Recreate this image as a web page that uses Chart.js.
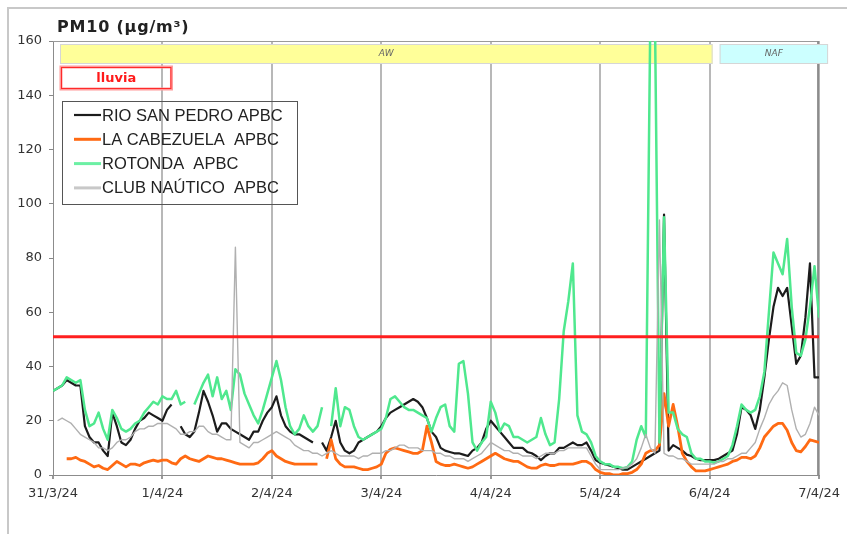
<!DOCTYPE html>
<html>
<head>
<meta charset="utf-8">
<script src="https://cdn.jsdelivr.net/npm/chart.js@4.4.1/dist/chart.umd.min.js"></script>
<style>
  html, body { margin: 0; padding: 0; background: #fff; }
  #wrap { width: 847px; height: 534px; }
</style>
</head>
<body>
<div id="wrap"><canvas id="pm10Chart" width="847" height="534"></canvas></div>
<script>
// tick labels, one per day (x axis counts hours from 31/3/24 00:00)
const dayLabels = ["31/3/24", "1/4/24", "2/4/24", "3/4/24", "4/4/24", "5/4/24", "6/4/24", "7/4/24"];
const hours = Array.from({ length: 169 }, (_, i) => i);

// hourly PM10 (µg/m³)
const rioSanPedro = [
  31, 32, 33, 35, 34, 33, 33, 18, 14, 12,
  12, 9, 7, 23, 18, 12, 11, 13, 17, 20,
  21, 23, 22, 21, 20, 24, 26, null, 18, 15,
  14, 16, 23, 31, 27, 22, 16, 19, 19, 17,
  16, 15, 14, 13, 16, 16, 20, 23, 25, 29,
  22, 18, 16, 15, 15, 14, 13, 12, null, 12,
  9, 14, 20, 12, 9, 8, 9, 12, 13, 14,
  15, 16, 18, 21, 23, 24, 25, 26, 27, 28,
  27, 25, 21, 16, 14, 10, 9, 8.5, 8, 8,
  7.5, 7, 9, 10, 12, 17, 20, 18, 16, 14,
  12, 10, 10, 10, 8.5, 8, 7, 5.5, 7, 8,
  8, 10, 10, 11, 12, 11, 11, 12, 9, 5.5,
  4.5, 4, 3.5, 3, 2.5, 2, 2, 3, 4, 5,
  6, 7, 8, 9, 96, 9, 11, 10, 9, 7.5,
  7, 6, 5.5, 5.5, 5.5, 5.5, 6, 7, 8, 9,
  15, 25, 24, 22, 17, 24, 36, 50, 62, 69,
  66, 69, 55, 41, 44, 58, 78, 36, 36
];
const laCabezuela = [
  null, null, null, 6, 6, 6.5, 5.5, 5, 4, 3,
  3.5, 2.5, 2, 3.5, 5, 4, 3, 4, 4, 3.5,
  4.5, 5, 5.5, 5, 5.5, 5.5, 4.5, 4, 6, 7,
  6, 5.5, 5, 6, 7, 6.5, 6, 6, 5.5, 5,
  4.5, 4, 4, 4, 4, 4.5, 6, 8, 9, 7,
  6, 5, 4.5, 4, 4, 4, 4, 4, 4, null,
  6, 13, 6, 4, 3, 3, 3, 2.5, 2, 2,
  2.5, 3, 4, 8, 9.5, 10, 9.5, 9, 8.5, 8,
  8, 9, 18, 12, 5, 4, 3.5, 3.5, 4, 3.5,
  3, 2.5, 3, 4, 5, 6, 7, 8, 7, 6,
  5.5, 5, 5, 4, 3, 2.5, 2.5, 3.5, 4, 3.5,
  3.5, 4, 4, 4, 4, 4.5, 5, 5, 4, 2,
  1, 0.5, 0.5, 0, 0, 0.5, 0.5, 1, 2, 4,
  8, 9, 9, 11, 30, 18, 26, 18, 8, 5,
  3, 1.5, 1.5, 1.5, 2, 2.5, 3, 3.5, 4, 5,
  5.5, 6.5, 6.5, 6, 7, 10, 14, 16, 18, 19,
  19, 16.5, 12, 9, 8.5, 10.5, 13, 12.5, 12
];
const rotonda = [
  31, 32, 33, 36, 35, 34, 35, 24, 18, 19,
  23, 17, 13, 24, 21, 17, 16, 17, 19, 20,
  23, 25, 27, 26, 29, 28, 28, 31, 26, 27,
  null, 26, 30, 34, 37, 29, 36, 28, 31, 24,
  39, 37, 30, 26, 22, 19, 24, 30, 36, 42,
  35, 25, 18, 15, 17, 22, 18, 16, 18, 25,
  null, 18, 32, 18, 25, 24, 18, 14, 13, 14,
  15, 16, 17, 21, 28, 29, 27, 25, 24, 24,
  23, 22, 21, 16, 21, 25, 26, 18, 16, 41,
  42, 30, 12, 9, 12, 14, 27, 23, 16, 19,
  18, 14, 14, 13, 12, 13, 14, 21, 15, 11,
  12, 28, 53, 64, 78, 22, 16, 15, 12, 7,
  5, 4, 4, 3, 3, 2.5, 3, 5, 13, 18,
  14, 170, 170, 12, 95, 23, 23, 17, 15, 14,
  8, 6, 6, 5, 5, 4.5, 5, 6, 7, 11,
  18, 26, 24, 23, 24, 29, 38, 60, 82, 78,
  74, 87, 62, 45, 44, 50, 62, 77, 58
];
const clubNautico = [
  null, 20, 21, 20, 19, 17, 15, 14, 13, 12,
  10, 10, 9, 10, 12, 13, 13, 14, 16, 17,
  17, 18, 18, 19, 19, 19, 18, 17, 15, 15,
  16, 16, 18, 18, 16, 15, 15, 14, 13, 13,
  84, 12, 11, 10, 12, 12, 13, 14, 15, 16,
  15, 14, 13, 11, 10, 9, 9, 8, 8, 7,
  8, 9, 8, 7, 7, 7, 7, 6, 7, 7,
  8, 8, 8, 9, 9, 10, 11, 11, 10, 10,
  10, 9, 9, 9, 8, 8, 7, 7, 6, 6,
  6, 5, 6, 7, 8, 10, 12, 11, 10, 9,
  9, 8, 8, 7, 7, 7, 6, 7, 8, 8,
  8, 9, 9, 10, 10, 10, 10, 10, 7, 4,
  2, 2, 2, 2, 2, 2.5, 3, 4, 6, 10,
  15, 10, 8, 94, 8, 7, 7, 6, 6, 5,
  4, 4, 4, 4, 4, 4, 5, 5, 6, 6,
  7, 8, 8, 10, 12, 17, 21, 26, 29, 31,
  34, 33, 24, 17, 14, 15, 19, 25, 22
];
const limitValue = 51;

// air-mass periods and rain periods (hours from start)
const periodNames = ["AW", "NAF"];
const periodStart = [0, 144];
const periodEnd = [144, 168];
const rainNames = ["lluvia"];
const rainStart = [0];
const rainEnd = [24];

const tickFont = { family: "DejaVu Sans", size: 13 };

function px(chart, h) {
  return chart.scales.x.getPixelForValue(h);
}

const overlay = {
  id: "overlay",
  beforeDraw(chart) {
    const c = chart.ctx;
    c.save();
    c.fillStyle = "#fff";
    c.fillRect(0, 0, chart.width, chart.height);
    // outer frame of the picture
    c.strokeStyle = "#c8c8c8";
    c.lineWidth = 2;
    c.beginPath();
    c.moveTo(8, chart.height);
    c.lineTo(8, 8);
    c.lineTo(chart.width, 8);
    c.stroke();
    c.restore();
  },
  beforeDatasetsDraw(chart) {
    const c = chart.ctx;
    const a = chart.chartArea;
    c.save();
    // top and right border of plot
    c.strokeStyle = "#9a9a9a";
    c.lineWidth = 1;
    c.beginPath();
    c.moveTo(a.left, a.top + 0.5);
    c.lineTo(a.right, a.top + 0.5);
    c.stroke();
    c.lineWidth = 2;
    c.strokeStyle = "#8c8c8c";
    c.beginPath();
    c.moveTo(a.right - 1, a.top);
    c.lineTo(a.right - 1, a.bottom);
    c.stroke();

    // air mass bands
    const fills = ["#ffff99", "#ccffff"];
    periodNames.forEach((name, i) => {
      const x1 = px(chart, periodStart[i]) + (i === 0 ? 7 : 10);
      const x2 = px(chart, periodEnd[i]) + (i < periodNames.length - 1 ? 3 : 9);
      const t = a.top + 3, h = 20;
      c.fillStyle = fills[i];
      c.fillRect(x1, t, x2 - x1, h);
      c.strokeStyle = "#d6d6d6";
      c.lineWidth = 1;
      c.strokeRect(x1 + 0.5, t + 0.5, x2 - x1 - 1, h - 1);
      c.fillStyle = "#666";
      c.font = "italic 9px 'DejaVu Sans'";
      c.textAlign = "center";
      c.textBaseline = "middle";
      c.fillText(name, (x1 + x2) / 2, t + h / 2);
    });

    // rain boxes
    rainNames.forEach((name, i) => {
      const x1 = px(chart, rainStart[i]) + 8;
      const x2 = px(chart, rainEnd[i]) + 9;
      const t = a.top + 26, h = 22;
      c.strokeStyle = "#ff9a9a";
      c.lineWidth = 3;
      c.strokeRect(x1, t, x2 - x1, h);
      c.strokeStyle = "#ff2a2a";
      c.lineWidth = 1;
      c.strokeRect(x1 + 0.5, t + 0.5, x2 - x1 - 1, h - 1);
      c.fillStyle = "#ff1a1a";
      c.font = "bold 13px 'DejaVu Sans'";
      c.textAlign = "center";
      c.textBaseline = "middle";
      c.fillText(name, (x1 + x2) / 2, t + h / 2 + 1);
    });
    c.restore();
  },
  afterDraw(chart) {
    const c = chart.ctx;
    c.save();
    // unit title
    c.fillStyle = "#222";
    c.font = "bold 16px 'DejaVu Sans'";
    c.letterSpacing = "0.8px";
    c.textAlign = "left";
    c.textBaseline = "alphabetic";
    c.fillText("PM10 (µg/m³)", 57, 32);
    c.letterSpacing = "0px";

    // legend box
    const items = chart.data.datasets.filter(d => d.inLegend);
    c.strokeStyle = "#555";
    c.lineWidth = 1;
    c.strokeRect(62.5, 101.5, 235, 103);
    c.font = "16.5px 'Liberation Sans'";
    c.textBaseline = "middle";
    items.forEach((d, i) => {
      const yy = 115 + i * 24.3;
      c.strokeStyle = d.legendColor || d.borderColor;
      c.lineWidth = d.legendWidth || d.borderWidth;
      c.beginPath();
      c.moveTo(74, yy);
      c.lineTo(101, yy);
      c.stroke();
      c.fillStyle = "#222";
      c.fillText(d.label, 102, yy + 1);
    });
    c.restore();
  }
};

new Chart(document.getElementById("pm10Chart").getContext("2d"), {
  type: "line",
  data: {
    labels: hours,
    datasets: [
      {
        label: "limite",
        data: hours.map(() => limitValue),
        borderColor: "#ff1f1f",
        borderWidth: 3,
        order: 0
      },
      {
        label: "CLUB NAÚTICO  APBC",
        data: clubNautico,
        borderColor: "#b0b0b0",
        borderWidth: 1.4,
        legendColor: "#c8c8c8",
        legendWidth: 3,
        inLegend: true,
        order: 1
      },
      {
        label: "ROTONDA  APBC",
        data: rotonda,
        borderColor: "#4fe88e",
        borderWidth: 2.5,
        legendColor: "#6cf0a4",
        legendWidth: 3,
        inLegend: true,
        order: 2
      },
      {
        label: "LA CABEZUELA  APBC",
        data: laCabezuela,
        borderColor: "#ff6a13",
        borderWidth: 2.8,
        legendWidth: 3,
        inLegend: true,
        order: 3
      },
      {
        label: "RIO SAN PEDRO APBC",
        data: rioSanPedro,
        borderColor: "#1c1c1c",
        borderWidth: 2.2,
        inLegend: true,
        order: 4
      }
    ].reverse()
  },
  options: {
    responsive: false,
    animation: false,
    layout: { padding: { top: 41, right: 27, left: 0, bottom: 0 } },
    elements: {
      point: { radius: 0 },
      line: { tension: 0, borderJoinStyle: "round" }
    },
    plugins: {
      legend: { display: false },
      tooltip: { enabled: false }
    },
    scales: {
      x: {
        type: "linear",
        min: 0,
        max: 168,
        afterFit: s => { s.height = 59; },
        ticks: {
          stepSize: 24,
          autoSkip: false,
          maxRotation: 0,
          padding: 7,
          color: "#333",
          font: tickFont,
          callback: v => dayLabels[v / 24]
        },
        grid: {
          color: ctx => (ctx.tick && ctx.tick.value === 0 ? "rgba(0,0,0,0)" : "#b8b8b8"),
          lineWidth: 2,
          tickLength: 4,
          tickColor: "#999"
        },
        border: { color: "#8c8c8c", width: 1 }
      },
      y: {
        min: 0,
        max: 160,
        afterFit: s => { s.width = 53; },
        ticks: {
          stepSize: 20,
          padding: 7,
          color: "#333",
          font: tickFont
        },
        grid: {
          drawOnChartArea: false,
          tickLength: 4,
          tickColor: "#888"
        },
        border: { color: "#8c8c8c", width: 1 }
      }
    }
  },
  plugins: [overlay]
});
</script>
</body>
</html>
